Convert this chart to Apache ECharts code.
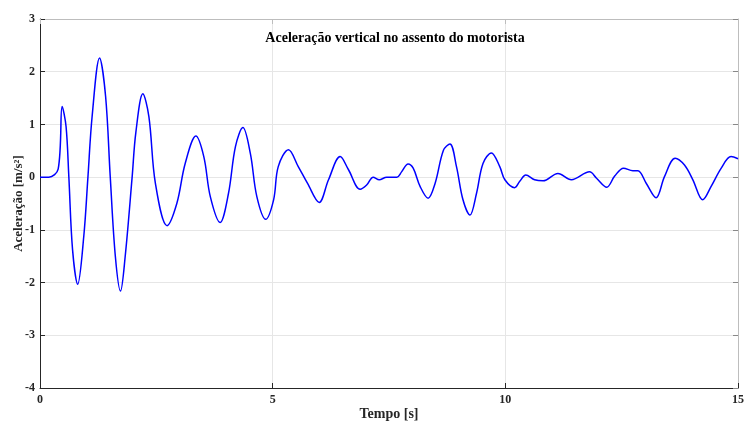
<!DOCTYPE html>
<html>
<head>
<meta charset="utf-8">
<script src="https://cdn.jsdelivr.net/npm/echarts@6/dist/echarts.min.js"></script>
<style>
  html, body { margin: 0; padding: 0; background: #fff; }
  #chart { width: 745px; height: 423px; }
</style>
</head>
<body>
<div id="chart"></div>
<script>
// tempo [s] e aceleração [m/s²]
let tempo = [0, 0.19, 0.39, 0.476, 0.56, 0.62, 0.70, 0.81, 0.94, 1.03, 1.12, 1.28, 1.41, 1.51, 1.62, 1.73, 1.83, 1.98, 2.06, 2.21, 2.34, 2.48, 2.73, 2.94, 3.12, 3.35, 3.52, 3.66, 3.87, 4.05, 4.2, 4.36, 4.52, 4.66, 4.85, 5.02, 5.12, 5.34, 5.55, 5.75, 6.0, 6.2, 6.45, 6.63, 6.88, 7.02, 7.16, 7.29, 7.45, 7.67, 7.77, 7.91, 8.02, 8.17, 8.34, 8.49, 8.67, 8.81, 8.95, 9.09, 9.24, 9.38, 9.52, 9.70, 9.88, 9.99, 10.2, 10.31, 10.44, 10.63, 10.81, 11.13, 11.42, 11.81, 11.96, 12.18, 12.35, 12.54, 12.74, 12.85, 13.03, 13.24, 13.42, 13.65, 13.85, 14.03, 14.24, 14.42, 14.64, 14.85, 15]
let aceleracao = [0, 0, 0.15, 1.34, 0.96, 0, -1.38, -2.03, -1.13, 0, 1.15, 2.26, 1.53, 0, -1.51, -2.16, -1.51, 0, 0.85, 1.58, 1.15, -0.12, -0.92, -0.50, 0.26, 0.78, 0.39, -0.37, -0.86, -0.31, 0.58, 0.94, 0.45, -0.37, -0.80, -0.43, 0.20, 0.52, 0.20, -0.12, -0.48, -0.05, 0.39, 0.14, -0.23, -0.15, 0.0, -0.05, 0, 0, 0.1, 0.25, 0.17, -0.18, -0.40, -0.12, 0.51, 0.63, 0.2, -0.43, -0.72, -0.31, 0.26, 0.46, 0.2, -0.05, -0.2, -0.08, 0.04, -0.05, -0.07, 0.07, -0.05, 0.1, -0.02, -0.19, 0.02, 0.17, 0.12, 0.12, -0.12, -0.39, 0.01, 0.36, 0.23, -0.05, -0.43, -0.18, 0.17, 0.39, 0.35]

let fonte = '"Liberation Serif", "Times New Roman", serif'
var chart = echarts.init(document.getElementById('chart'))

function eixo(extra) {
  return Object.assign({
    type: 'value',
    nameMoveOverlap: false,
    axisLine: { show: true, onZero: false, lineStyle: { color: '#262626', width: 1 } },
    axisTick: { show: true, inside: true, length: 5, lineStyle: { color: '#262626' } },
    axisLabel: { color: '#262626', fontFamily: fonte, fontWeight: 'bold', fontSize: 12 },
    splitLine: { show: true, lineStyle: { color: '#e6e6e6', width: 1 } }
  }, extra)
}

let options = {
  animation: false,
  title: {
    text: 'Aceleração vertical no assento do motorista',
    left: 390, top: 26, textAlign: 'center',
    textStyle: { fontFamily: fonte, fontWeight: 'bold', fontSize: 14, color: '#000' }
  },
  grid: { left: 40, right: 7, top: 19, bottom: 35, containLabel: false, outerBoundsMode: 'none' },
  xAxis: [
    eixo({
      min: 0, max: 15, interval: 5,
      name: 'Tempo [s]', nameLocation: 'middle', nameGap: 19,
      nameTextStyle: { fontFamily: fonte, fontWeight: 'bold', fontSize: 14, color: '#262626' },
      axisLabel: { color: '#262626', fontFamily: fonte, fontWeight: 'bold', fontSize: 12, margin: 6 }
    }),
    eixo({
      min: 0, max: 15, interval: 5, position: 'top',
      axisLine: { show: true, onZero: false, lineStyle: { color: '#bdbdbd' } },
      axisTick: { show: true, inside: true, length: 5, lineStyle: { color: '#bdbdbd' } },
      axisLabel: { show: false }, splitLine: { show: false }
    })
  ],
  yAxis: [
    eixo({
      min: -4, max: 3, interval: 1,
      name: 'Aceleração [m/s²]', nameLocation: 'middle', nameGap: 15,
      nameTextStyle: { fontFamily: fonte, fontWeight: 'bold', fontSize: 13, color: '#262626' },
      axisLabel: { color: '#262626', fontFamily: fonte, fontWeight: 'bold', fontSize: 12, margin: 5 }
    }),
    eixo({
      min: -4, max: 3, interval: 1, position: 'right',
      axisLine: { show: true, onZero: false, lineStyle: { color: '#bdbdbd' } },
      axisTick: { show: true, inside: true, length: 5, lineStyle: { color: '#888' } },
      axisLabel: { show: false }, splitLine: { show: false }
    })
  ],
  series: [
    {
      type: 'line',
      data: tempo.map((t, i) => [t, aceleracao[i]]),
      smooth: 0.35,
      showSymbol: false,
      lineStyle: { color: '#0000ff', width: 1.5 }
    }
  ]
}
chart.setOption(options)
</script>
</body>
</html>
